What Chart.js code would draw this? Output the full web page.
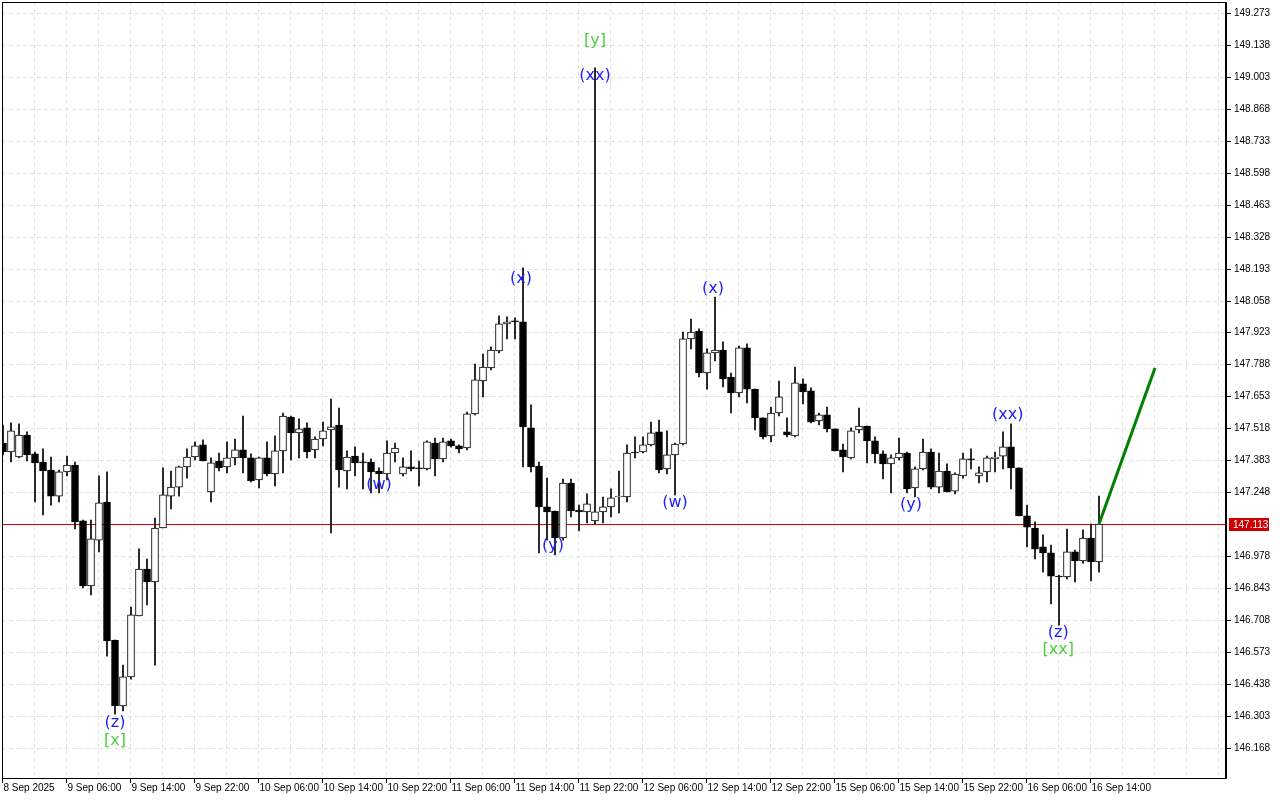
<!DOCTYPE html>
<html><head><meta charset="utf-8">
<script src="https://cdn.jsdelivr.net/npm/chart.js@4/dist/chart.umd.min.js"></script>
<style>html,body{margin:0;padding:0;background:#fff;overflow:hidden}canvas{display:block}</style>
</head><body>
<canvas id="c" width="1280" height="800"></canvas>
<script>
const opens=[147.456,147.418,147.397,147.490,147.410,147.376,147.342,147.232,147.334,147.363,147.127,146.852,147.046,147.207,146.624,146.345,146.468,146.726,146.924,146.869,147.097,147.232,147.270,147.355,147.397,147.448,147.249,147.380,147.355,147.393,147.427,147.393,147.300,147.393,147.325,147.423,147.566,147.499,147.520,147.427,147.473,147.511,147.532,147.338,147.401,147.376,147.376,147.338,147.325,147.414,147.325,147.355,147.351,147.347,147.456,147.389,147.465,147.444,147.435,147.579,147.718,147.773,147.845,147.959,147.972,147.968,147.520,147.359,147.186,147.169,147.055,147.287,147.173,147.165,147.127,147.165,147.186,147.228,147.228,147.418,147.418,147.448,147.503,147.347,147.406,147.452,147.896,147.929,147.752,147.837,147.849,147.735,147.668,147.858,147.684,147.562,147.486,147.583,147.503,147.486,147.706,147.676,147.549,147.575,147.516,147.427,147.393,147.511,147.528,147.465,147.410,147.368,147.393,147.414,147.266,147.347,147.418,147.270,147.338,147.253,147.317,147.389,147.317,147.334,147.389,147.401,147.440,147.351,147.148,147.097,147.017,146.992,146.894,146.890,146.996,146.958,147.055,146.954];
const highs=[147.532,147.541,147.537,147.503,147.418,147.431,147.397,147.342,147.401,147.376,147.131,147.131,147.317,147.334,146.624,146.518,146.763,147.009,146.966,147.139,147.351,147.338,147.359,147.431,147.461,147.469,147.393,147.414,147.461,147.473,147.570,147.410,147.397,147.461,147.486,147.583,147.570,147.558,147.541,147.482,147.545,147.642,147.604,147.423,147.440,147.414,147.389,147.351,147.465,147.456,147.393,147.423,147.380,147.465,147.477,147.477,147.473,147.448,147.587,147.790,147.832,147.862,147.993,147.989,147.985,148.196,147.617,147.376,147.308,147.169,147.304,147.304,147.194,147.241,149.041,147.228,147.262,147.338,147.448,147.482,147.482,147.545,147.553,147.507,147.456,147.925,147.980,147.938,147.854,148.073,147.883,147.752,147.866,147.875,147.684,147.562,147.608,147.718,147.562,147.777,147.727,147.689,147.583,147.608,147.516,147.452,147.520,147.604,147.528,147.482,147.423,147.406,147.477,147.418,147.355,147.473,147.431,147.414,147.368,147.330,147.414,147.431,147.355,147.401,147.418,147.503,147.537,147.351,147.194,147.123,147.068,147.025,146.898,147.093,147.004,147.089,147.114,147.232];
const lows=[147.406,147.376,147.393,147.380,147.207,147.152,147.194,147.207,147.317,147.093,146.844,146.814,146.996,146.556,146.311,146.324,146.459,146.726,146.772,146.518,147.097,147.178,147.232,147.308,147.385,147.380,147.207,147.338,147.330,147.363,147.330,147.292,147.266,147.317,147.275,147.330,147.385,147.393,147.393,147.393,147.444,147.076,147.270,147.262,147.317,147.262,147.245,147.245,147.300,147.376,147.317,147.338,147.275,147.342,147.317,147.376,147.439,147.414,147.427,147.575,147.651,147.765,147.837,147.896,147.896,147.355,147.334,146.992,147.046,146.983,147.046,147.144,147.085,147.118,147.114,147.118,147.144,147.161,147.207,147.393,147.414,147.444,147.330,147.325,147.237,147.448,147.854,147.735,147.684,147.803,147.693,147.583,147.651,147.625,147.511,147.473,147.461,147.570,147.482,147.482,147.621,147.541,147.532,147.503,147.423,147.334,147.389,147.499,147.372,147.372,147.304,147.245,147.385,147.245,147.228,147.342,147.262,147.245,147.249,147.241,147.308,147.347,147.287,147.292,147.334,147.347,147.262,147.148,147.017,146.966,146.911,146.776,146.687,146.882,146.869,146.949,146.873,146.911];
const closes=[147.418,147.507,147.490,147.406,147.372,147.338,147.232,147.334,147.363,147.123,146.852,147.051,147.203,146.620,146.345,146.468,146.730,146.924,146.869,147.097,147.237,147.270,147.355,147.397,147.444,147.380,147.372,147.351,147.393,147.427,147.393,147.296,147.393,147.325,147.423,147.570,147.499,147.516,147.418,147.473,147.507,147.524,147.342,147.397,147.372,147.372,147.334,147.325,147.414,147.435,147.355,147.347,147.347,147.461,147.389,147.461,147.444,147.431,147.579,147.723,147.777,147.849,147.959,147.968,147.968,147.524,147.355,147.186,147.165,147.055,147.287,147.169,147.165,147.199,147.165,147.186,147.224,147.232,147.414,147.414,147.448,147.499,147.342,147.406,147.452,147.896,147.925,147.752,147.837,147.849,147.727,147.668,147.858,147.684,147.562,147.482,147.583,147.651,147.490,147.710,147.672,147.545,147.575,147.516,147.423,147.397,147.507,147.528,147.465,147.410,147.368,147.393,147.414,147.262,147.347,147.418,147.270,147.338,147.249,147.325,147.389,147.385,147.330,147.393,147.397,147.440,147.351,147.148,147.101,147.008,146.992,146.894,146.890,146.996,146.958,147.055,146.954,147.114];
const timeLabels=["8 Sep 2025","9 Sep 06:00","9 Sep 14:00","9 Sep 22:00","10 Sep 06:00","10 Sep 14:00","10 Sep 22:00","11 Sep 06:00","11 Sep 14:00","11 Sep 22:00","12 Sep 06:00","12 Sep 14:00","12 Sep 22:00","15 Sep 06:00","15 Sep 14:00","15 Sep 22:00","16 Sep 06:00","16 Sep 14:00"];
const priceTicks=[146.168,146.303,146.438,146.573,146.708,146.843,146.978,147.113,147.248,147.383,147.518,147.653,147.788,147.923,148.058,148.193,148.328,148.463,148.598,148.733,148.868,149.003,149.138,149.273];
const currentPrice=147.113;
const forecastX=[137,144];
const forecastY=[147.114,147.773];
const waveText=["(z)","[x]","(w)","(x)","(y)","[y]","(xx)","(w)","(x)","(y)","(xx)","(z)","[xx]"];
const waveBar=[14,14,47,64.75,68.75,74,74,84,88.75,113.5,125.6,131.9,131.9];
const wavePrice=[146.273,146.197,147.279,148.150,147.021,149.155,149.007,147.203,148.107,147.194,147.575,146.654,146.582];
const waveGreen=[false,true,false,false,false,true,false,false,false,false,false,false,true];

const wick=opens.map((o,i)=>({x:i,y:[lows[i],highs[i]]}));
const body=opens.map((o,i)=>({x:i,y:[o,closes[i]]}));
const bodyFill=opens.map((o,i)=>closes[i]<o?'#000':'#fff');

const deco={id:'deco',
 beforeDatasetsDraw(ch){const c=ch.ctx,a=ch.chartArea,xs=ch.scales.x,ys=ch.scales.y;
  c.save();c.strokeStyle='#e2e2e2';c.lineWidth=1;c.setLineDash([4,3]);
  for(let i=4;i<153;i+=4){const px=Math.round(xs.getPixelForValue(i)-1)+0.5;c.beginPath();c.moveTo(px,a.top);c.lineTo(px,a.bottom);c.stroke();}
  priceTicks.forEach(p=>{const py=Math.round(ys.getPixelForValue(p))+0.5;c.beginPath();c.moveTo(a.left,py);c.lineTo(a.right,py);c.stroke();});
  c.setLineDash([]);
  const cy=Math.round(ys.getPixelForValue(currentPrice))+0.5;c.strokeStyle='#e00000';c.beginPath();c.moveTo(a.left,cy);c.lineTo(a.right,cy);c.stroke();
  c.restore();},
 afterDatasetsDraw(ch){const c=ch.ctx,a=ch.chartArea,xs=ch.scales.x,ys=ch.scales.y;
  c.save();c.strokeStyle='#000';c.lineWidth=1;c.strokeRect(a.left+0.5,a.top+0.5,a.right-a.left-1,a.bottom-a.top);
  c.lineWidth=2;c.beginPath();c.moveTo(a.right,a.top);c.lineTo(a.right,a.bottom+1);c.stroke();c.lineWidth=1;
  c.font='10px "Liberation Sans"';c.fillStyle='#000';c.textBaseline='middle';c.textAlign='left';
  priceTicks.forEach(p=>{if(p===currentPrice)return;const py=Math.round(ys.getPixelForValue(p))+0.5;c.beginPath();c.moveTo(a.right,py);c.lineTo(a.right+5,py);c.stroke();c.fillText(p.toFixed(3),a.right+8,py);});
  const cy=Math.round(ys.getPixelForValue(currentPrice));c.fillStyle='#cc0000';c.fillRect(a.right+3,cy-6,40,13);c.fillStyle='#fff';c.fillText(currentPrice.toFixed(3),a.right+7,cy+1);
  c.fillStyle='#000';c.textBaseline='top';
  timeLabels.forEach((t,k)=>{const px=Math.round(xs.getPixelForValue(k*8)-1)+0.5;c.beginPath();c.moveTo(px,a.bottom);c.lineTo(px,a.bottom+5);c.stroke();c.fillText(t,px+1,a.bottom+5);});
  c.font='16px "DejaVu Sans"';c.textAlign='center';c.textBaseline='middle';
  waveText.forEach((t,k)=>{c.fillStyle=waveGreen[k]?'#4fcf3f':'#1c1cff';c.fillText(t,xs.getPixelForValue(waveBar[k]),ys.getPixelForValue(wavePrice[k]));});
  c.restore();}};

new Chart(document.getElementById('c'),{
 type:'bar',
 data:{datasets:[
  {type:'line',data:forecastX.map((x,i)=>({x,y:forecastY[i]})),borderColor:'#008000',borderWidth:3,pointRadius:0,order:-1},
  {data:body,backgroundColor:bodyFill,borderColor:'#000',borderWidth:1,borderSkipped:false,barThickness:7,minBarLength:1,grouped:false,order:0},
  {data:wick,backgroundColor:'#000',borderWidth:0,barThickness:1,grouped:false,order:1}
 ]},
 options:{responsive:false,devicePixelRatio:1,animation:false,
  layout:{padding:{left:2,top:2,right:54,bottom:22}},
  plugins:{legend:{display:false},tooltip:{enabled:false}},
  scales:{x:{type:'linear',min:-0.125,max:152.875,display:false,offset:false},
          y:{min:146.041,max:149.319,display:false}}},
 plugins:[deco]});
</script></body></html>
